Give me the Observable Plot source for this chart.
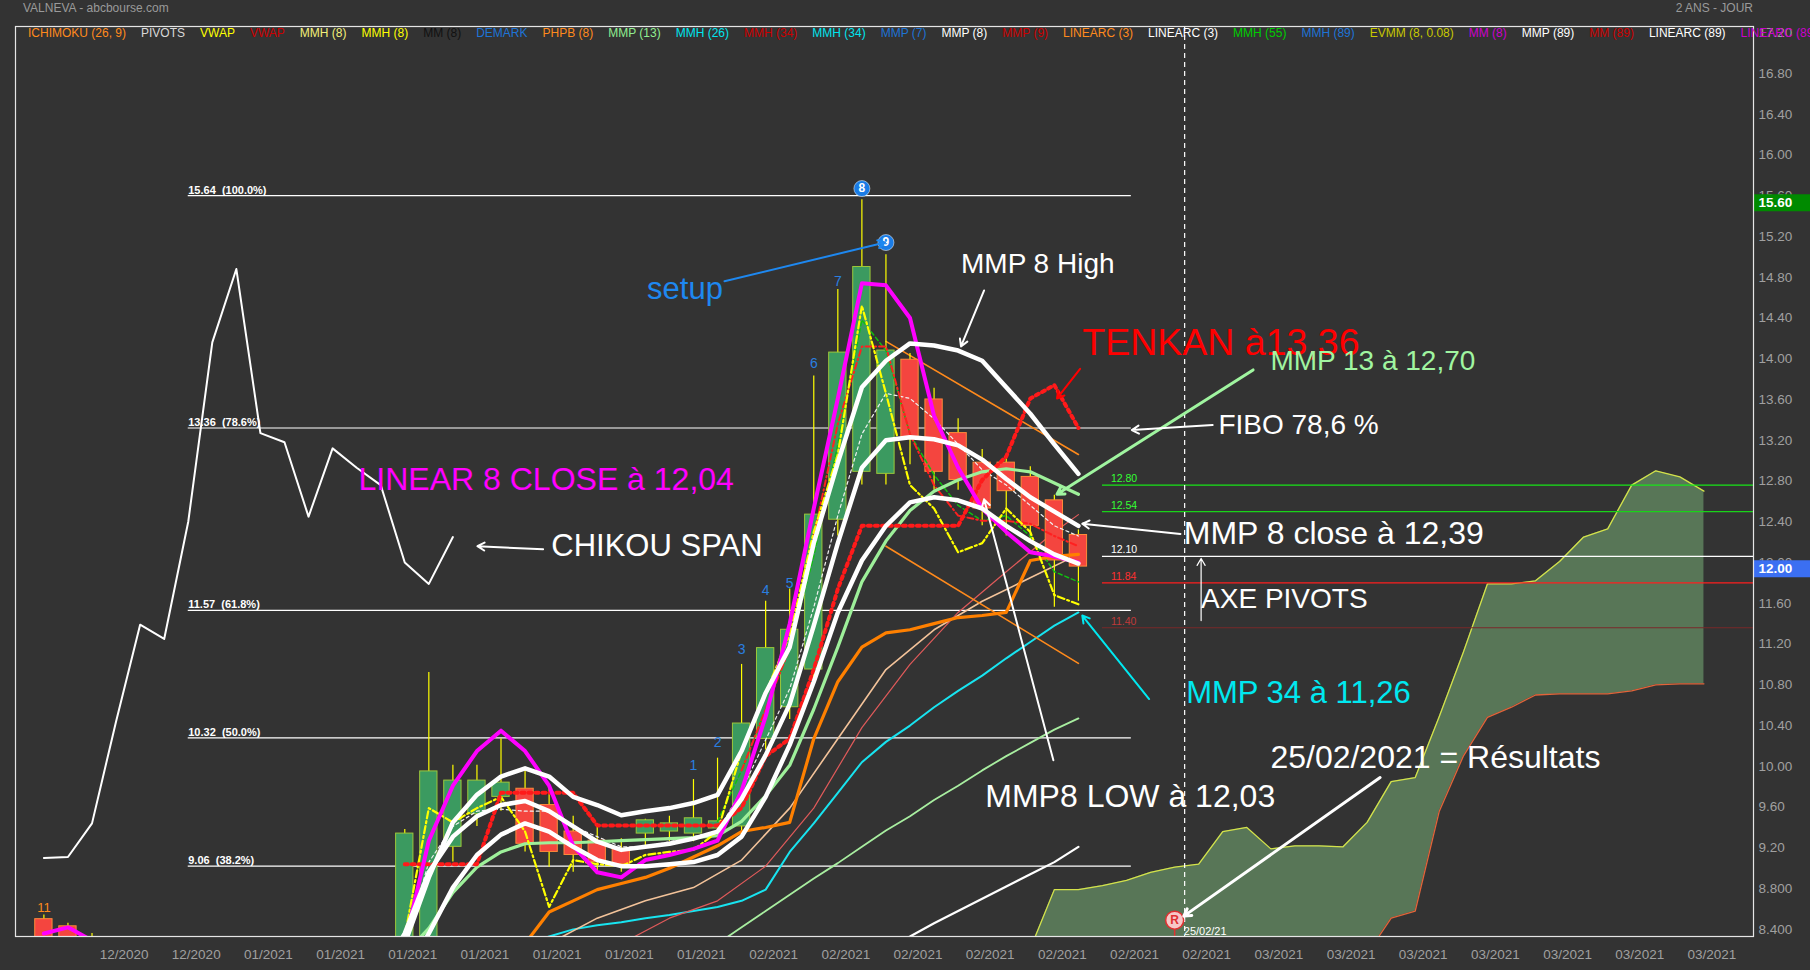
<!DOCTYPE html>
<html><head><meta charset="utf-8">
<script src="https://cdn.jsdelivr.net/npm/d3@7"></script>
<script src="https://cdn.jsdelivr.net/npm/@observablehq/plot@0.6"></script>
<style>
html,body{margin:0;padding:0;background:#333333;}
#wrap{position:relative;width:1810px;height:970px;background:#333333;overflow:hidden;font-family:"Liberation Sans",Arial,sans-serif;}
#chart{position:absolute;left:0;top:0;}
#title{position:absolute;left:23px;top:1px;font-size:12px;color:#9a9a9a;z-index:2;white-space:nowrap;}
#period{position:absolute;right:57px;top:1px;font-size:12px;color:#9a9a9a;z-index:2;white-space:nowrap;}
#legend{position:absolute;left:28px;top:26px;font-size:12px;line-height:14px;z-index:2;white-space:nowrap;}
#legend span{margin-right:15px;}
</style></head>
<body>
<div id="wrap">
  <div id="chart"></div>
  <div id="title">VALNEVA - abcbourse.com</div>
  <div id="period">2 ANS - JOUR</div>
  <div id="legend"></div>
</div>
<script>
// ---------------- DATA ----------------
const legendNames  = ["ICHIMOKU (26, 9)","PIVOTS","VWAP","VWAP","MMH (8)","MMH (8)","MM (8)","DEMARK","PHPB (8)","MMP (13)","MMH (26)","MMH (34)","MMH (34)","MMP (7)","MMP (8)","MMP (9)","LINEARC (3)","LINEARC (3)","MMH (55)","MMH (89)","EVMM (8, 0.08)","MM (8)","MMP (89)","MM (89)","LINEARC (89)","LINEARC (89)"];
const legendColors = ["#ff8a1c","#d8d8d8","#ffff00","#cc0000","#f2f07a","#ffff00","#111111","#1e74d6","#ff8a1c","#90ee90","#00e5ee","#cc0000","#00e5ee","#1e74d6","#ffffff","#cc0000","#ff8a1c","#ffffff","#00cc00","#1e74d6","#c8c800","#cc00cc","#ffffff","#cc0000","#ffffff","#cc00cc"];

const yTicks      = [8.4,8.8,9.2,9.6,10.0,10.4,10.8,11.2,11.6,12.0,12.4,12.8,13.2,13.6,14.0,14.4,14.8,15.2,15.6,16.0,16.4,16.8,17.2];
const yTickLabels = ["8.400","8.800","9.20","9.60","10.00","10.40","10.80","11.20","11.60","12.00","12.40","12.80","13.20","13.60","14.00","14.40","14.80","15.20","15.60","16.00","16.40","16.80","17.20"];
const xTickIndex  = [3,6,9,12,15,18,21,24,27,30,33,36,39,42,45,48,51,54,57,60,63,66,69];
const xTickLabels = ["12/2020","12/2020","01/2021","01/2021","01/2021","01/2021","01/2021","01/2021","01/2021","02/2021","02/2021","02/2021","02/2021","02/2021","02/2021","02/2021","03/2021","03/2021","03/2021","03/2021","03/2021","03/2021","03/2021"];

// candles (bar index = trading day from 18/12/2020)
const candleIndex = [0,1,2,15,16,17,18,19,20,21,22,23,24,25,26,27,28,29,30,31,32,33,34,35,36,37,38,39,40,41,42,43];
const candleOpen  = [8.54,8.47,8.20,8.20,8.30,9.25,9.57,9.74,9.82,9.66,9.40,9.31,9.23,9.38,9.40,9.38,9.43,9.45,10.31,10.62,10.99,12.46,12.93,12.91,14.03,13.64,13.31,13.02,13.02,12.88,12.65,12.31];
const candleHigh  = [8.58,8.50,8.40,9.42,10.96,10.05,10.05,10.31,10.02,9.82,9.55,9.45,9.33,9.52,9.55,9.91,10.12,11.04,11.66,11.78,13.87,14.72,15.60,15.06,14.09,13.75,13.45,13.15,13.08,12.98,12.70,12.36];
const candleLow   = [8.10,8.05,8.00,8.10,8.20,9.10,9.45,9.60,9.20,9.05,9.00,8.98,9.00,9.25,9.30,9.30,9.35,9.40,10.20,10.50,10.85,12.30,12.80,12.80,13.00,12.75,12.75,12.40,12.30,12.25,11.60,11.66];
const candleClose = [8.20,8.15,8.10,9.38,9.99,9.90,9.90,9.88,9.28,9.20,9.17,9.10,9.08,9.51,9.48,9.53,9.50,10.46,11.20,11.38,12.51,14.10,14.94,14.12,13.25,12.93,12.85,12.57,12.74,12.40,12.06,12.00];

// indicator series: start index + values
const chikouStart = 0,  chikou = [9.14,9.15,9.48,10.48,11.43,11.29,12.44,14.20,14.92,13.31,13.22,12.49,13.16,12.97,12.80,12.04,11.83,12.29];
const magentaA = [8.40,8.46,8.33,8.10];
const magentaStart = 14, magentaB = [8.00,8.30,9.31,9.85,10.19,10.39,10.19,9.85,9.26,9.00,8.95,9.12,9.17,9.23,9.31,9.80,10.53,11.44,12.57,13.65,14.78,14.76,14.44,13.48,12.97,12.57,12.34,12.14,12.10,12.04];
const mmp8HighStart = 14, mmp8High = [8.00,8.30,8.95,9.49,9.76,9.94,10.02,9.94,9.74,9.66,9.56,9.60,9.63,9.68,9.76,10.19,10.76,11.21,12.23,13.02,13.76,14.02,14.19,14.17,14.12,14.02,13.76,13.50,13.20,12.91];
const mmp8CloseStart = 14, mmp8Close = [8.00,8.40,9.00,9.35,9.55,9.66,9.70,9.60,9.45,9.30,9.22,9.25,9.28,9.33,9.40,9.72,10.15,10.65,11.42,12.23,12.97,13.24,13.27,13.25,13.19,13.05,12.86,12.68,12.54,12.40];
const mmp8LowStart = 15, mmp8Low = [8.00,8.40,8.85,9.17,9.37,9.48,9.40,9.25,9.12,9.06,9.06,9.08,9.10,9.17,9.35,9.74,10.25,10.87,11.55,12.06,12.40,12.63,12.68,12.65,12.57,12.40,12.25,12.12,12.03];
const tenkanStart = 15, tenkan = [9.08,9.08,9.08,9.08,9.78,9.78,9.78,9.78,9.46,9.46,9.46,9.46,9.46,9.46,9.63,10.14,10.31,10.99,11.78,12.40,12.40,12.40,12.40,12.40,12.85,13.08,13.65,13.78,13.36];
const yellowStart = 14, yellowDD = [8.00,8.37,9.63,9.49,9.63,9.74,9.40,8.66,9.12,9.08,9.06,9.17,9.20,9.22,9.40,10.19,10.76,11.33,12.34,13.10,14.56,13.70,12.80,12.57,12.14,12.23,12.57,12.34,11.72,11.63];
const greenStart = 28, greenD = [9.50,10.00,10.60,11.20,12.10,13.20,14.42,14.12,13.30,12.90,12.60,12.45,12.50,12.30,11.95,11.85];
const whiteDStart = 15, whiteD = [8.30,9.10,9.45,9.60,9.62,9.60,9.60,9.45,9.35,9.25,9.25,9.30,9.35,9.40,9.80,10.30,10.80,11.60,12.50,13.30,13.70,13.65,13.45,13.20,12.95,12.80,12.60,12.40,12.30];
const redDDStart = 29, redDD = [10.00,10.60,11.20,12.30,13.40,14.16,14.16,13.30,12.80,12.50,12.45,12.45,12.42,12.30,12.20];
const orangeStart = 20, orangeK = [8.30,8.61,8.72,8.83,8.89,8.95,9.04,9.15,9.26,9.40,9.44,9.49,10.31,10.87,11.21,11.35,11.38,11.44,11.50,11.52,11.55,12.06,12.10,12.12];
const cyanStart = 20, cyanLine = [8.30,8.37,8.44,8.48,8.51,8.55,8.58,8.62,8.66,8.72,8.83,9.20,9.48,9.78,10.08,10.28,10.44,10.62,10.78,10.93,11.10,11.26,11.42,11.55];
const lgStart = 28, lgThin = [8.30,8.46,8.62,8.78,8.94,9.09,9.25,9.41,9.55,9.71,9.85,10.00,10.14,10.27,10.40,10.51];
const w89Start = 35, white89 = [8.25,8.37,8.50,8.62,8.74,8.86,8.98,9.10,9.25];
const mmp13Start = 15, mmp13 = [8.20,8.45,8.80,9.05,9.20,9.28,9.29,9.29,9.30,9.31,9.32,9.33,9.34,9.36,9.50,9.75,10.05,10.60,11.21,11.85,12.25,12.55,12.74,12.85,12.93,12.96,12.93,12.82,12.71];
const peach   = [[21,8.30],[23,8.55],[25,8.72],[27,8.85],[29,9.12],[31,9.63],[33,10.31],[35,10.99],[37,11.38],[39,11.66],[41,11.89],[43,12.12]];
const thinRed = [[24,8.30],[26,8.55],[28,8.72],[30,9.06],[32,9.63],[34,10.42],[36,11.04],[38,11.55],[40,11.95],[42,12.34],[43,12.51]];
const regUpper = [[35,14.21],[43,13.10]];
const regLower = [[35,12.20],[43,11.05]];

// ichimoku cloud (shifted 26 forward)
const cloudStart = 40;
const senkouA = [8.10,8.25,8.83,8.83,8.87,8.92,9.00,9.05,9.08,9.40,9.44,9.23,9.26,9.26,9.25,9.49,9.89,9.93,10.53,11.16,11.83,11.83,11.86,12.05,12.29,12.37,12.80,12.94,12.88,12.74];
const senkouB = [8.00,8.00,8.00,8.00,8.00,8.00,8.00,8.00,8.00,8.00,8.00,8.00,8.00,8.00,8.00,8.20,8.55,8.62,9.60,10.14,10.52,10.62,10.74,10.75,10.75,10.75,10.78,10.84,10.85,10.85];

// fibonacci & pivots
const fibFrom = 6, fibTo = 45.2;
const fibValues = [15.64,13.36,11.57,10.32,9.06];
const fibLabels = ["15.64\u00a0\u00a0(100.0%)","13.36\u00a0\u00a0(78.6%)","11.57\u00a0\u00a0(61.8%)","10.32\u00a0\u00a0(50.0%)","9.06\u00a0\u00a0(38.2%)"];
const pivotFrom = 44;
const pivotValues = [12.80,12.54,12.10,11.84,11.40];
const pivotLabels = ["12.80","12.54","12.10","11.84","11.40"];
const pivotLine   = ["#19e619","#19d219","#ffffff","#ff1f1f","#7a2a2a"];
const pivotText   = ["#33ff33","#33ff33","#ffffff","#ff3030","#c03a3a"];

// demark counts
const demarkIndex = [27,28,29,30,31,32,33];
const demarkValue = [10.05,10.27,11.19,11.77,11.83,13.99,14.80];
const demarkLabel = ["1","2","3","4","5","6","7"];
const demarkCircleIndex = [34,35], demarkCircleValue = [15.71,15.18], demarkCircleLabel = ["8","9"];
const resultIndex = 47;

// price markers
const markerValues = [15.57,11.98], markerLabels = ["15.60","12.00"], markerColors = ["#008a00","#3b6ff2"];

// annotations
const annotText  = ["setup","MMP 8 High","TENKAN à13,36","MMP 13 à 12,70","FIBO 78,6 %","LINEAR 8 CLOSE à 12,04","CHIKOU SPAN","MMP 8 close à 12,39","AXE PIVOTS","MMP 34 à 11,26","25/02/2021 = Résultats","MMP8 LOW à 12,03"];
const annotX     = [25.07,38.12,43.16,50.98,48.82,13.08,21.09,47.38,48.10,47.48,50.98,39.13];
const annotY     = [14.72,14.97,14.19,14.02,13.39,12.85,12.20,12.32,11.68,10.76,10.12,9.74];
const annotColor = ["#1e88f0","#ffffff","#ff0000","#a0f5a0","#ffffff","#ff00ff","#ffffff","#ffffff","#ffffff","#00e8f0","#ffffff","#ffffff"];
const annotSize  = [31,28,37.5,28,28,32,31,32,28,31,32,32];
const arrowFrom  = [[28.29,14.80],[39.08,14.71],[43.07,13.94],[50.26,13.93],[48.58,13.39],[20.75,12.17],[47.24,12.32],[48.10,11.47],[45.94,10.70],[55.54,9.93],[41.96,10.10]];
const arrowTo    = [[34.96,15.18],[38.12,14.16],[42.11,13.65],[42.11,12.71],[45.22,13.34],[18.02,12.20],[43.16,12.42],[48.10,12.08],[43.16,11.52],[47.38,8.57],[39.08,12.66]];
const arrowColor = ["#1e88f0","#ffffff","#ff0000","#a0f5a0","#ffffff","#ffffff","#ffffff","#ffffff","#00e8f0","#ffffff","#ffffff"];
const arrowWidth = [2,2,2,3,2,2,2,1.2,2,3,2];

// ---------------- BUILD ----------------
const leg = document.getElementById("legend");
legendNames.forEach((n,k)=>{const s=document.createElement("span");s.textContent=n;s.style.color=legendColors[k];leg.appendChild(s);});

const seq = (start, vals) => vals.map((v,k)=>({i:start+k, v}));
const pairs = arr => arr.map(([i,v])=>({i,v}));
const candles = candleIndex.map((i,k)=>({i,o:candleOpen[k],h:candleHigh[k],l:candleLow[k],c:candleClose[k]}));
const cloud = senkouA.map((a,k)=>({i:cloudStart+k,a,b:senkouB[k]}));
const fibs = fibValues.map((v,k)=>({v,label:fibLabels[k]}));
const pivots = pivotValues.map((v,k)=>({v,label:pivotLabels[k],lc:pivotLine[k],tc:pivotText[k]}));
const demarks = demarkIndex.map((i,k)=>({i,v:demarkValue[k],t:demarkLabel[k]}));
const demarkCircles = demarkCircleIndex.map((i,k)=>({i,v:demarkCircleValue[k],t:demarkCircleLabel[k]}));
const yTickData = yTicks.map((v,k)=>({v,t:yTickLabels[k]}));
const xTickData = xTickIndex.map((i,k)=>({i,t:xTickLabels[k]}));
const markers = markerValues.map((v,k)=>({v,t:markerLabels[k],c:markerColors[k]}));
const annots = annotText.map((t,k)=>({t,i:annotX[k],v:annotY[k],c:annotColor[k],s:annotSize[k]}));
const arrows = arrowFrom.map((f,k)=>({x1:f[0],y1:f[1],x2:arrowTo[k][0],y2:arrowTo[k][1],c:arrowColor[k],w:arrowWidth[k]}));

const xDomain = [-1.18, 71.06];
const yDomain = [8.37, 17.30];

const L = (data, stroke, strokeWidth, dash) => Plot.line(data, {x:"i", y:"v", stroke, strokeWidth, strokeDasharray: dash, strokeLinejoin:"round", strokeLinecap:"round", clip:true});

const marks = [
  // cloud
  Plot.areaY(cloud, {x:"i", y1:"b", y2:"a", fill:"#587657", clip:true}),
  Plot.line(cloud, {x:"i", y:"a", stroke:"#d4e24a", strokeWidth:1.3, clip:true}),
  Plot.line(cloud, {x:"i", y:"b", stroke:"#e2643a", strokeWidth:1.3, clip:true}),
  // fibonacci
  Plot.ruleY(fibs, {y:"v", x1:fibFrom, x2:fibTo, stroke:"#ffffff", strokeWidth:1.2}),
  Plot.text(fibs, {x:fibFrom, y:"v", text:"label", textAnchor:"start", lineAnchor:"bottom", dy:-2, fill:"#ffffff", fontSize:11, fontWeight:"bold"}),
  // pivots
  Plot.ruleY(pivots, {y:"v", x1:pivotFrom, x2:xDomain[1], stroke:"lc", strokeWidth:1.2}),
  Plot.text(pivots, {x:pivotFrom+0.35, y:"v", text:"label", fill:"tc", textAnchor:"start", lineAnchor:"bottom", dy:-3, fontSize:10.5}),
  // result day dashed line
  Plot.ruleX([resultIndex], {dx:10, stroke:"#ffffff", strokeWidth:1.2, strokeDasharray:"5,4"}),
  // chikou
  L(seq(chikouStart, chikou), "#ffffff", 2),
  // thin indicator lines
  L(seq(w89Start, white89), "#ffffff", 2.2),
  L(seq(lgStart, lgThin), "#a8eea0", 1.8),
  L(seq(cyanStart, cyanLine), "#18e4f0", 2),
  L(pairs(peach), "#f3c39a", 1.6),
  L(pairs(thinRed), "#e05a5a", 1.2),
  L(pairs(regUpper), "#ff8a1c", 1.6),
  L(pairs(regLower), "#ff8a1c", 1.6),
  // candles
  Plot.ruleX(candles, {x:"i", y1:"l", y2:"h", stroke:"#ffff00", strokeWidth:1.2, clip:true}),
  Plot.rect(candles, {x1:d=>d.i-0.36, x2:d=>d.i+0.36, y1:d=>Math.min(d.o,d.c), y2:d=>Math.max(d.o,d.c),
    fill:d=>d.c>=d.o?"#3b9a60":"#f4453f", stroke:d=>d.c>=d.o?"#9cc83a":"#ff8a3a", strokeWidth:1, clip:true}),
  // dashed/dotted thin lines
  L(seq(whiteDStart, whiteD), "#f0f0f0", 1.2, "3,3"),
  L(seq(greenStart, greenD), "#10c010", 1.5, "4,3"),
  L(seq(redDDStart, redDD), "#ff2020", 2, "6,3,1.5,3"),
  // thick lines
  L(seq(orangeStart, orangeK), "#ff8000", 3.2),
  L(seq(mmp13Start, mmp13), "#9ef09a", 3.2),
  L(seq(yellowStart, yellowDD), "#ffff00", 2.2, "7,3,2,3"),
  L(seq(tenkanStart, tenkan), "#ff1a1a", 4, "3,4"),
  L(seq(0, magentaA), "#ff00ff", 4),
  L(seq(magentaStart, magentaB), "#ff00ff", 4),
  L(seq(mmp8LowStart, mmp8Low), "#ffffff", 4.5),
  L(seq(mmp8CloseStart, mmp8Close), "#ffffff", 4.5),
  L(seq(mmp8HighStart, mmp8High), "#ffffff", 4.5),
  // demark
  Plot.text(demarks, {x:"i", y:"v", text:"t", fill:"#2a7fe0", fontSize:14}),
  Plot.dot(demarkCircles, {x:"i", y:"v", r:8, fill:"#1a7ce6", stroke:"#ffffff", strokeWidth:0.5}),
  Plot.text(demarkCircles, {x:"i", y:"v", text:"t", fill:"#ffffff", fontSize:12, fontWeight:"bold"}),
  Plot.text([{i:0, v:8.65, t:"11"}], {x:"i", y:"v", text:"t", fill:"#ff8a1c", fontSize:13}),
  // result marker
  Plot.ruleX([resultIndex], {y1:yDomain[0], y2:8.5, stroke:"#e03030", strokeWidth:1.5}),
  Plot.dot([{i:resultIndex, v:8.53}], {x:"i", y:"v", r:9, fill:"#f7c8c8", stroke:"#e03030", strokeWidth:1.5}),
  Plot.text([{i:resultIndex, v:8.53}], {x:"i", y:"v", text:()=>"R", fill:"#e03030", fontSize:12, fontWeight:"bold"}),
  Plot.text([{i:resultIndex+0.38, v:8.42, t:"25/02/21"}], {x:"i", y:"v", text:"t", textAnchor:"start", fill:"#ffffff", fontSize:11}),
  // arrows
  Plot.arrow(arrows, {x1:"x1", y1:"y1", x2:"x2", y2:"y2", stroke:"c", strokeWidth:"w", headLength:12}),
  // annotation texts
  ...annots.map(a => Plot.text([a], {x:"i", y:"v", text:"t", fill:"c", fontSize:a.s, textAnchor:"start"})),
  // axes
  Plot.text(yTickData, {y:"v", text:"t", frameAnchor:"right", dx:5, dy:-4, textAnchor:"start", fill:"#a0a0a0", fontSize:13.5}),
  Plot.ruleY(markers, {y:"v", x1:xDomain[1]+0.04, x2:xDomain[1]+2.45, stroke:"c", strokeWidth:17}),
  Plot.text(markers, {y:"v", text:"t", frameAnchor:"right", dx:5, textAnchor:"start", fill:"#ffffff", fontSize:13.5, fontWeight:"bold"}),
  Plot.text(xTickData, {x:"i", text:"t", frameAnchor:"bottom", dx:8, dy:22, fill:"#a0a0a0", fontSize:13.5}),
  Plot.frame({stroke:"#e6e6e6", strokeWidth:1.2})
];

const chart = Plot.plot({
  width:1810, height:970,
  marginTop:26, marginBottom:34, marginLeft:15, marginRight:57,
  x:{domain:xDomain, axis:null},
  y:{domain:yDomain, axis:null},
  color:{type:"identity"},
  style:{background:"#333333", color:"#ffffff", fontFamily:"'Liberation Sans', Arial, sans-serif", overflow:"visible"},
  marks
});
document.getElementById("chart").appendChild(chart);
</script>
</body></html>
